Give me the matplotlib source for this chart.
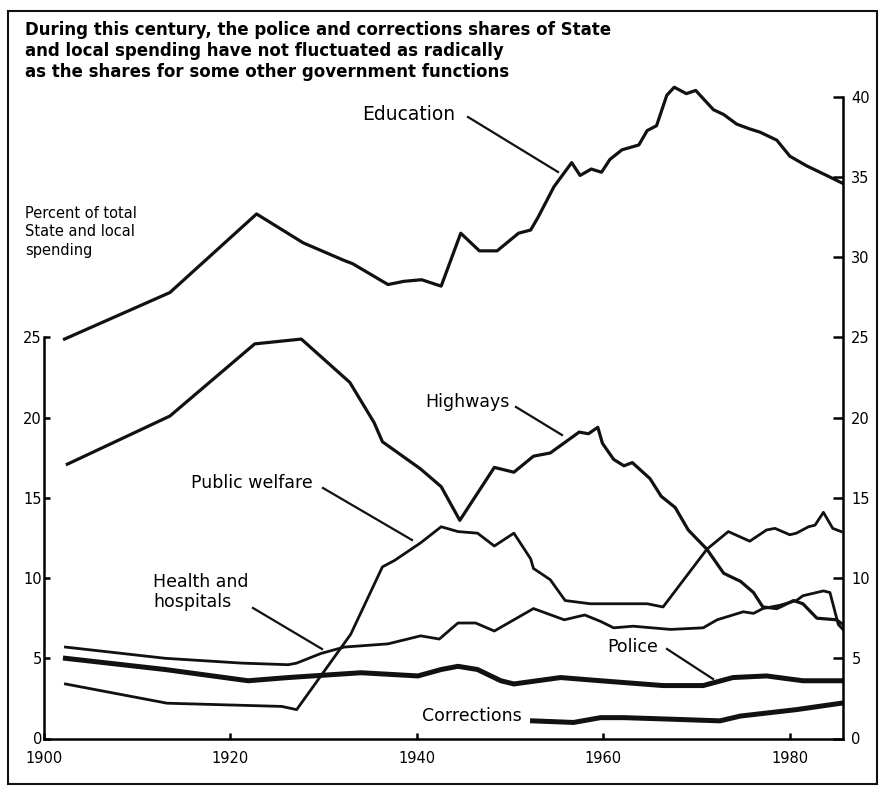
import numpy as np
import matplotlib
matplotlib.use("Agg")
import matplotlib.pyplot as plt
from matplotlib.lines import Line2D
from matplotlib.patches import Rectangle

plt.rcParams['font.family'] = ['DejaVu Sans']

# Percent of total State and local spending
edu_yr = [1902.2, 1913.5, 1922.8, 1927.8, 1932.2, 1933.1, 1936.9, 1938.6, 1940.5, 1942.6,
          1944.7, 1946.7, 1948.6, 1950.9, 1952.2, 1953.0, 1954.7, 1956.6, 1957.5, 1958.7,
          1959.8, 1960.7, 1962.0, 1963.8, 1964.7, 1965.7, 1966.8, 1967.6, 1968.9, 1969.9,
          1971.8, 1972.9, 1974.3, 1975.7, 1976.8, 1978.6, 1980.0, 1981.8, 1984.3, 1985.7]
edu_val = [24.9, 27.8, 32.7, 30.9, 29.8, 29.6, 28.3, 28.5, 28.6, 28.2,
           31.5, 30.4, 30.4, 31.5, 31.7, 32.5, 34.4, 35.9, 35.1, 35.5,
           35.3, 36.1, 36.7, 37.0, 37.9, 38.2, 40.1, 40.6, 40.2, 40.4,
           39.2, 38.9, 38.3, 38.0, 37.8, 37.3, 36.3, 35.7, 35.0, 34.6]

hwy_yr = [1902.5, 1913.5, 1922.6, 1927.6, 1932.8, 1935.4, 1936.3, 1940.4, 1942.6, 1944.6,
          1948.3, 1950.4, 1952.5, 1954.3, 1957.4, 1958.4, 1959.4, 1959.9, 1961.1, 1962.2,
          1963.1, 1965.0, 1966.2, 1967.7, 1969.1, 1971.1, 1972.9, 1974.7, 1976.1, 1977.1,
          1978.6, 1980.4, 1981.4, 1982.9, 1985.0, 1985.7]
hwy_val = [17.1, 20.1, 24.6, 24.9, 22.2, 19.7, 18.5, 16.8, 15.7, 13.6,
           16.9, 16.6, 17.6, 17.8, 19.1, 19.0, 19.4, 18.4, 17.4, 17.0,
           17.2, 16.2, 15.1, 14.4, 13.0, 11.8, 10.3, 9.8, 9.1, 8.2,
           8.1, 8.6, 8.4, 7.5, 7.4, 7.1]

welf_yr = [1902.3, 1913.2, 1925.5, 1927.1, 1932.9, 1936.3, 1937.6, 1940.4, 1942.6, 1944.4,
           1946.5, 1948.3, 1950.4, 1952.2, 1952.5, 1954.3, 1955.9, 1958.6, 1964.7, 1966.4,
           1971.1, 1973.4, 1975.7, 1977.5, 1978.4, 1980.0, 1980.7, 1982.0, 1982.7, 1983.6,
           1984.6, 1985.5]
welf_val = [3.4, 2.2, 2.0, 1.8, 6.5, 10.7, 11.1, 12.2, 13.2, 12.9,
            12.8, 12.0, 12.8, 11.2, 10.6, 9.9, 8.6, 8.4, 8.4, 8.2,
            11.8, 12.9, 12.3, 13.0, 13.1, 12.7, 12.8, 13.2, 13.3, 14.1,
            13.1, 12.9]

hlth_yr = [1902.3, 1913.0, 1921.2, 1926.2, 1927.1, 1929.7, 1932.2, 1936.9, 1940.4, 1942.4,
           1944.4, 1946.3, 1948.3, 1952.5, 1955.8, 1958.0, 1959.7, 1961.1, 1963.2, 1967.2,
           1970.7, 1972.2, 1975.0, 1976.1, 1977.1, 1978.9, 1980.7, 1981.4, 1983.6, 1984.3,
           1985.2, 1985.7]
hlth_val = [5.7, 5.0, 4.7, 4.6, 4.7, 5.3, 5.7, 5.9, 6.4, 6.2,
            7.2, 7.2, 6.7, 8.1, 7.4, 7.7, 7.3, 6.9, 7.0, 6.8,
            6.9, 7.4, 7.9, 7.8, 8.1, 8.3, 8.6, 8.9, 9.2, 9.1,
            7.1, 6.8]

pol_yr = [1902.3, 1913.0, 1921.9, 1926.2, 1934.0, 1940.1, 1942.6, 1944.4, 1946.5, 1949.0,
          1950.4, 1955.4, 1959.7, 1966.4, 1970.7, 1973.9, 1977.5, 1981.4, 1985.5]
pol_val = [5.0, 4.3, 3.6, 3.8, 4.1, 3.9, 4.3, 4.5, 4.3, 3.6,
           3.4, 3.8, 3.6, 3.3, 3.3, 3.8, 3.9, 3.6, 3.6]

corr_yr = [1952.4, 1956.8, 1959.7, 1962.2, 1967.5, 1972.5, 1974.7, 1980.7, 1985.5]
corr_val = [1.1, 1.0, 1.3, 1.3, 1.2, 1.1, 1.4, 1.8, 2.2]

W, H = 880, 787
fig = plt.figure(figsize=(W / 100, H / 100), dpi=100)
fig.patch.set_facecolor('white')


def fx(x):
    return x / W


def fy(y):
    return 1 - y / H


ax = fig.add_axes([fx(44), fy(738.5), (843 - 44) / W, 665.7 / H])
ax.set_xlim(1900, 1985.7)
ax.set_ylim(0, 41.5)

ink = '#111111'
ax.plot(edu_yr, edu_val, color=ink, lw=2.3, solid_joinstyle='round')
ax.plot(hwy_yr, hwy_val, color=ink, lw=2.3, solid_joinstyle='round')
ax.plot(welf_yr, welf_val, color=ink, lw=2.0, solid_joinstyle='round')
ax.plot(hlth_yr, hlth_val, color=ink, lw=2.0, solid_joinstyle='round')
ax.plot(pol_yr, pol_val, color=ink, lw=3.6, solid_joinstyle='round')
ax.plot(corr_yr, corr_val, color=ink, lw=3.6, solid_joinstyle='round')

for s in ['top', 'right']:
    ax.spines[s].set_visible(False)
ax.spines['left'].set_bounds(0, 25)
ax.spines['left'].set_linewidth(1.8)
ax.spines['bottom'].set_linewidth(1.8)
ax.set_xticks([1900, 1920, 1940, 1960, 1980])
ax.set_yticks([0, 5, 10, 15, 20, 25])
ax.tick_params(axis='x', direction='in', length=4, width=1.8, pad=9, labelsize=10.5)
ax.tick_params(axis='y', direction='in', length=4, width=1.8, pad=1.5, labelsize=10.5)

ax2 = ax.twinx()
ax2.set_ylim(ax.get_ylim())
for s in ['top', 'left', 'bottom']:
    ax2.spines[s].set_visible(False)
ax2.spines['right'].set_bounds(0, 40)
ax2.spines['right'].set_linewidth(1.8)
ax2.set_yticks([0, 5, 10, 15, 20, 25, 30, 35, 40])
ax2.tick_params(axis='y', direction='in', length=7, width=1.8, pad=6, labelsize=10.5)

# title and axis note
fig.text(fx(25), fy(51), "During this century, the police and corrections shares of State\n"
         "and local spending have not fluctuated as radically\n"
         "as the shares for some other government functions",
         ha='left', va='center', fontsize=12, fontweight='bold', linespacing=1.2)
fig.text(fx(25), fy(232), "Percent of total\nState and local\nspending",
         ha='left', va='center', fontsize=10.5, linespacing=1.25)

# series labels with leader lines
labels = [
    ("Education", 362, 115, 13.5, (468, 117), (558, 172)),
    ("Highways", 425, 402, 12.5, (516, 407), (562, 435)),
    ("Public welfare", 191, 483, 12.5, (323, 488), (412, 540)),
    ("Health and\nhospitals", 153, 592, 12.5, (253, 608), (322, 649)),
    ("Police", 607, 647, 12.5, (667, 649), (713, 679)),
    ("Corrections", 422, 716, 12.5, None, None),
]
for txt, x, y, fs, p0, p1 in labels:
    fig.text(fx(x), fy(y), txt, ha='left', va='center', fontsize=fs, linespacing=1.1)
    if p0 is not None:
        fig.add_artist(Line2D([fx(p0[0]), fx(p1[0])], [fy(p0[1]), fy(p1[1])],
                              transform=fig.transFigure, color=ink, lw=1.6))

# outer frame
fig.add_artist(Rectangle((fx(8), fy(784)), (877 - 8) / W, (784 - 11) / H,
                         transform=fig.transFigure, fill=False, ec=ink, lw=1.5))

fig.savefig("out.png", dpi=100)
